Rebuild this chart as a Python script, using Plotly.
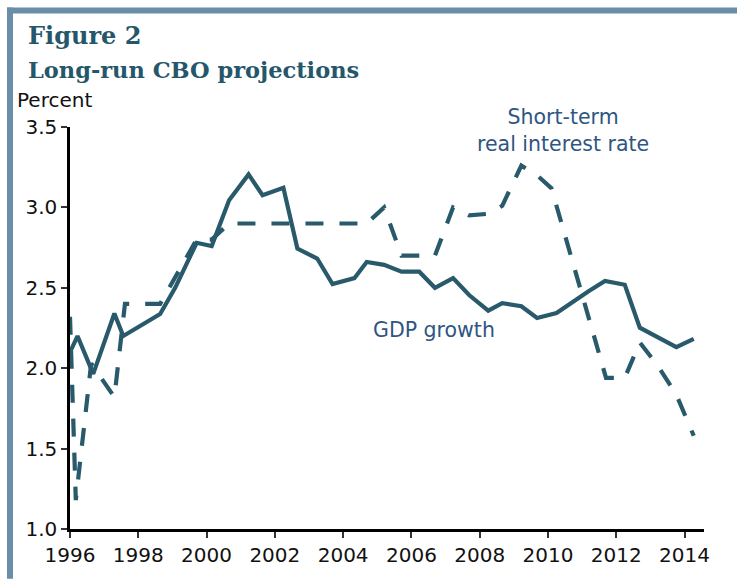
import plotly.graph_objects as go

# GDP growth projection (solid)
gdp_x = [1996.0, 1996.22, 1996.68, 1997.30, 1997.56, 1998.64, 1999.08, 1999.71, 2000.15,
         2000.66, 2001.23, 2001.64, 2002.25, 2002.66, 2003.24, 2003.69, 2004.33, 2004.69,
         2005.20, 2005.71, 2006.23, 2006.69, 2007.22, 2007.69, 2008.25, 2008.66, 2009.22,
         2009.68, 2010.25, 2010.70, 2011.20, 2011.67, 2012.25, 2012.69, 2013.76, 2014.27]
gdp_y = [2.10, 2.20, 1.965, 2.34, 2.20, 2.337, 2.50, 2.78, 2.76,
         3.045, 3.205, 3.076, 3.122, 2.744, 2.682, 2.523, 2.56, 2.661,
         2.643, 2.60, 2.60, 2.50, 2.56, 2.455, 2.358, 2.405, 2.385,
         2.312, 2.343, 2.41, 2.48, 2.543, 2.519, 2.252, 2.131, 2.182]

# Short-term real interest rate projection (dashed)
rate_x = [1996.0, 1996.17, 1996.62, 1997.30, 1997.61, 1998.64, 1999.71, 2000.15, 2000.66,
          2004.69, 2005.20, 2005.71, 2006.69, 2007.22, 2007.69, 2008.25, 2008.66, 2009.22,
          2009.68, 2010.10, 2011.70, 2012.25, 2012.69, 2013.20, 2013.75, 2014.27]
rate_y = [2.32, 1.18, 2.03, 1.82, 2.40, 2.40, 2.80, 2.80, 2.90,
          2.90, 3.00, 2.70, 2.70, 3.00, 2.95, 2.96, 3.01, 3.26,
          3.20, 3.12, 1.94, 1.94, 2.16, 2.02, 1.84, 1.58]

x_ticks = [1996, 1998, 2000, 2002, 2004, 2006, 2008, 2010, 2012, 2014]
y_ticks = [1.0, 1.5, 2.0, 2.5, 3.0, 3.5]

W, H = 737, 579
ML, MR, MT, MB = 70, 33, 127, 48
PW, PH = W - ML - MR, H - MT - MB

def px(xp):
    return (xp - ML) / PW

def py(yp):
    return (H - MB - yp) / PH

LINE = "#285a6b"
FRAME = "#6a8ea7"
TXT = "#2f5582"

fig = go.Figure()
fig.add_trace(go.Scatter(x=rate_x, y=rate_y, mode="lines",
                         line=dict(color=LINE, width=4.2, dash="18px,16px"),
                         hoverinfo="skip", showlegend=False))
fig.add_trace(go.Scatter(x=gdp_x, y=gdp_y, mode="lines",
                         line=dict(color=LINE, width=4.2),
                         hoverinfo="skip", showlegend=False))

fig.update_layout(
    width=W, height=H,
    margin=dict(l=ML, r=MR, t=MT, b=MB),
    paper_bgcolor="white", plot_bgcolor="white",
    font=dict(family="DejaVu Sans", size=20, color="#111111"),
    hovermode=False,
    xaxis=dict(range=[1996, 2014.57], tickvals=x_ticks, ticks="outside", ticklen=6,
               tickwidth=1.5, tickcolor="#333333", showline=True, linecolor="black",
               linewidth=2.5, showgrid=False, zeroline=False,
               tickfont=dict(family="DejaVu Sans", size=20, color="#111111")),
    yaxis=dict(range=[1.0, 3.5], tickvals=y_ticks, tickformat=".1f", ticks="outside",
               ticklen=6, tickwidth=1.5, tickcolor="#333333", showline=True,
               linecolor="black", linewidth=2.5, showgrid=False, zeroline=False,
               tickfont=dict(family="DejaVu Sans", size=20, color="#111111")),
    shapes=[
        dict(type="rect", xref="paper", yref="paper", x0=px(7), x1=px(13), y0=py(7), y1=py(H + 2),
             fillcolor=FRAME, line=dict(width=0), layer="above"),
        dict(type="rect", xref="paper", yref="paper", x0=px(7), x1=px(W + 2), y0=py(7), y1=py(13),
             fillcolor=FRAME, line=dict(width=0), layer="above"),
    ],
    annotations=[
        dict(text="<b>Figure 2</b>", xref="paper", yref="paper", x=px(26), y=py(52),
             xanchor="left", yanchor="bottom", showarrow=False,
             font=dict(family="DejaVu Serif", size=24, color="#25566a")),
        dict(text="<b>Long-run CBO projections</b>", xref="paper", yref="paper", x=px(26), y=py(85),
             xanchor="left", yanchor="bottom", showarrow=False,
             font=dict(family="DejaVu Serif", size=22.5, color="#25566a")),
        dict(text="Percent", xref="paper", yref="paper", x=px(15), y=py(114),
             xanchor="left", yanchor="bottom", showarrow=False,
             font=dict(family="DejaVu Sans", size=20, color="#111111")),
        dict(text="Short-term<br>real interest rate", xref="paper", yref="paper",
             x=px(563), y=py(131), xanchor="center", yanchor="middle", showarrow=False,
             align="center", font=dict(family="DejaVu Sans", size=20.5, color=TXT)),
        dict(text="GDP growth", xref="paper", yref="paper", x=px(434), y=py(331),
             xanchor="center", yanchor="middle", showarrow=False,
             font=dict(family="DejaVu Sans", size=20.5, color=TXT)),
    ],
)

fig.write_html("out.html", config={"displayModeBar": False},
               post_script="document.body.style.margin='0';document.body.style.padding='0';")
